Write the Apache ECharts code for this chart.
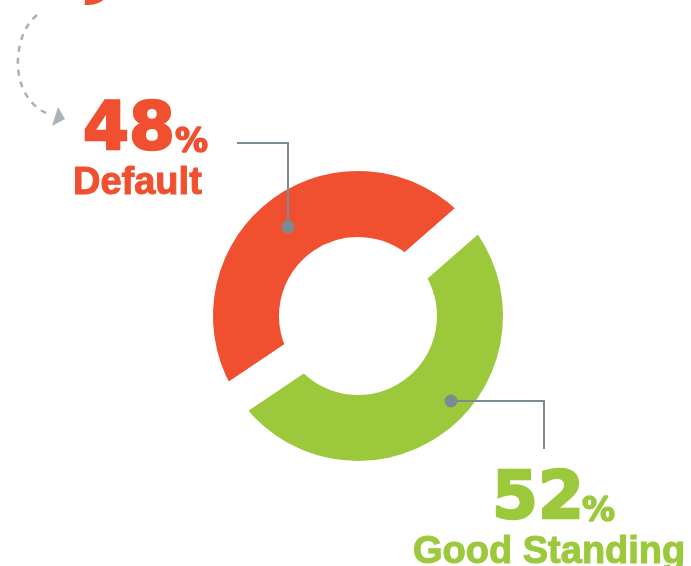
<!DOCTYPE html>
<html>
<head>
<meta charset="utf-8">
<script src="https://cdn.jsdelivr.net/npm/echarts@6/dist/echarts.min.js"></script>
<style>
  html, body { margin: 0; padding: 0; background: #fff; }
  #chart { width: 691px; height: 566px; }
</style>
</head>
<body>
<div id="chart"></div>
<script>
(function() {
  /** Data */
  var categories = ['Default', 'Good Standing'];
  var values = [48, 52];
  var colors = ['#F0502F', '#9BC93B'];

  var RED = colors[0], GREEN = colors[1], GREY = '#7B8A93';
  var NUM_FONT = 'bold 66px "DejaVu Sans"';
  var PCT_FONT = 'bold 33px "DejaVu Sans"';
  var WORD_FONT = 'bold 38px "Liberation Sans"';

  /** Annotation helpers */
  function text(str, x, y, font, fill, weight) {
    return {
      type: 'text', x: x, y: y, z: 100, silent: true,
      style: {
        text: str, font: font, fill: fill, stroke: fill, lineWidth: weight,
        align: 'left', verticalAlign: 'middle'
      }
    };
  }
  function leader(points, dot) {
    return [{
      type: 'polyline', z: 100, silent: true,
      shape: { points: points },
      style: { stroke: GREY, lineWidth: 2, fill: null }
    }, {
      type: 'circle', z: 101, silent: true,
      shape: { cx: dot[0], cy: dot[1], r: 6.5 },
      style: { fill: GREY }
    }];
  }

  var graphics = [
    // red sliver at the top edge
    {
      type: 'sector', silent: true,
      shape: { cx: 88, cy: -22, r0: 15, r: 27, startAngle: 0, endAngle: 1.7 },
      style: { fill: RED }
    },
    // dashed arrow
    {
      type: 'bezierCurve', silent: true,
      shape: { x1: 37, y1: 15, cpx1: 12, cpy1: 35, cpx2: 8, cpy2: 95, x2: 46, y2: 113 },
      style: { stroke: '#A7B2BA', lineWidth: 2.5, lineDash: [6, 6], fill: null }
    },
    {
      type: 'polygon', silent: true,
      shape: { points: [[52, 126], [58, 107], [65, 119]] },
      style: { fill: '#A7B2BA' }
    },
    text('48', 83, 132, NUM_FONT, RED, 2.5),
    text('%', 175, 143, PCT_FONT, RED, 1.5),
    text(categories[0], 73, 184, WORD_FONT, RED, 1),
    text('52', 492, 501, NUM_FONT, GREEN, 2.5),
    text('%', 582, 512, PCT_FONT, GREEN, 1.5),
    text(categories[1], 413, 553, WORD_FONT, GREEN, 1)
  ]
    .concat(leader([[237, 143], [288, 143], [288, 227]], [288, 227]))
    .concat(leader([[451, 401], [544, 401], [544, 449]], [451, 401]));

  var option = {
    animation: false,
    backgroundColor: '#fff',
    series: [{
      type: 'pie',
      silent: true,
      z: 1,
      center: [358, 316],
      radius: [61.5, 162.5],
      clockwise: false,
      startAngle: 41.1,
      label: { show: false },
      labelLine: { show: false },
      itemStyle: { borderColor: '#fff', borderWidth: 35 },
      data: categories.map(function(name, i) {
        return { name: name, value: values[i], itemStyle: { color: colors[i] } };
      })
    }],
    graphic: graphics
  };

  echarts.init(document.getElementById('chart')).setOption(option);
})();
</script>
</body>
</html>
